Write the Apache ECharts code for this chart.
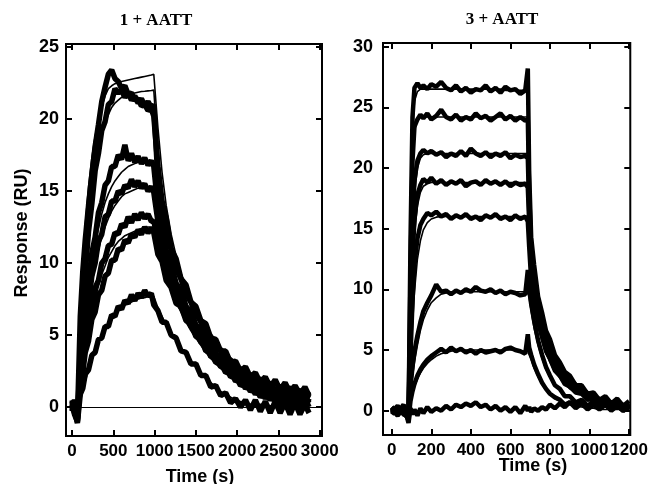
<!DOCTYPE html>
<html lang="en">
<head>
<meta charset="UTF-8">
<title>SPR sensorgrams</title>
<script src="https://cdn.jsdelivr.net/npm/echarts@6/dist/echarts.min.js"></script>
<style>
    html, body { margin: 0; padding: 0; background: #fff; }
    #main { width: 651px; height: 484px; }
</style>
</head>
<body>
<div id="main"></div>
<script>
// ---- left panel: 1 + AATT ----
var tL = [0, 30, 65, 100, 130, 160, 200, 240, 280, 320, 360, 400, 440, 480, 520, 560, 600, 640, 680, 720, 760, 800, 840, 880, 920, 960, 990,
    1040, 1090, 1140, 1200, 1260, 1320, 1380, 1440, 1500, 1560, 1620, 1680, 1740, 1800, 1860, 1920, 1980, 2040, 2100, 2160, 2220, 2280, 2340, 2400, 2460, 2520, 2580, 2640, 2700, 2760, 2820, 2870];

// measured curves (noisy)
var a1 = [0.4, -0.3, -0.9, 6.3, 9.4, 11.6, 14.0, 16.1, 18.1, 19.6, 21.2, 22.2, 23.1, 23.4, 22.8, 22.6, 22.1, 22.3, 21.7, 21.8, 21.3, 21.4, 20.9, 21.0, 20.6, 20.7, 20.2,
    16.7, 14.3, 13.1, 11.0, 10.3, 8.9, 8.5, 7.3, 7.0, 6.0, 5.8, 4.8, 4.7, 3.9, 3.9, 3.1, 3.2, 2.5, 2.8, 2.1, 2.4, 1.7, 2.1, 1.4, 1.9, 1.2, 1.7, 1.0, 1.5, 0.9, 1.4, 0.8];
var a2 = [-0.2, 0.5, -0.7, 3.4, 7.2, 9.3, 12.2, 14.1, 16.4, 17.6, 19.2, 19.8, 21.0, 21.2, 22.1, 21.8, 22.0, 21.5, 21.8, 21.3, 21.6, 21.1, 21.4, 20.9, 21.2, 20.8, 21.0,
    15.8, 13.9, 12.2, 10.9, 9.6, 8.9, 7.8, 7.3, 6.4, 6.0, 5.2, 4.9, 4.1, 4.0, 3.3, 3.3, 2.6, 2.7, 2.1, 2.3, 1.7, 2.0, 1.4, 1.7, 1.1, 1.5, 0.9, 1.4, 0.8, 1.2, 0.7, 1.1];
var a3 = [0.3, -0.4, -0.6, 2.6, 4.6, 6.9, 8.5, 10.7, 11.8, 13.5, 14.2, 15.4, 15.7, 16.7, 16.7, 17.5, 17.2, 18.2, 17.1, 17.6, 17.0, 17.4, 16.9, 17.3, 16.8, 17.1, 16.7,
    13.9, 12.4, 10.9, 9.9, 8.6, 8.1, 7.0, 6.6, 5.7, 5.4, 4.6, 4.4, 3.7, 3.5, 2.9, 2.9, 2.3, 2.4, 1.8, 2.0, 1.4, 1.7, 1.1, 1.4, 0.8, 1.2, 0.6, 1.1, 0.5, 1.0, 0.4, 0.9];
var a4 = [-0.3, 0.4, -0.8, 2.1, 3.8, 5.8, 7.2, 9.1, 10.0, 11.5, 12.0, 13.2, 13.4, 14.3, 14.3, 15.0, 14.8, 15.4, 15.2, 15.8, 15.3, 15.7, 15.2, 15.5, 15.0, 15.3, 14.9,
    12.9, 11.4, 10.3, 9.1, 8.3, 7.4, 6.9, 6.0, 5.7, 4.9, 4.7, 3.9, 3.8, 3.1, 3.1, 2.4, 2.5, 1.9, 2.0, 1.5, 1.7, 1.1, 1.4, 0.8, 1.2, 0.6, 1.0, 0.4, 0.9, 0.3, 0.8, 0.3];
var a5 = [0.2, -0.5, -1.0, 1.6, 3.1, 4.1, 6.0, 6.8, 8.3, 8.8, 10.0, 10.3, 11.2, 11.3, 12.1, 12.0, 12.7, 12.5, 13.2, 12.8, 13.4, 13.0, 13.5, 13.1, 13.4, 12.9, 12.9,
    11.6, 10.3, 9.6, 8.4, 7.9, 6.9, 6.6, 5.6, 5.4, 4.5, 4.4, 3.5, 3.5, 2.8, 2.8, 2.1, 2.2, 1.5, 1.7, 1.1, 1.4, 0.7, 1.1, 0.5, 0.9, 0.2, 0.8, 0.1, 0.7, 0.0, 0.6, 0.0];
var a6 = [-0.1, 0.3, -0.6, 1.3, 2.4, 3.8, 4.6, 6.1, 6.6, 7.8, 8.1, 9.1, 9.3, 10.2, 10.2, 11.0, 10.9, 11.6, 11.4, 12.0, 11.8, 12.3, 12.0, 12.5, 12.1, 12.4, 12.1,
    10.6, 10.1, 8.8, 8.3, 7.2, 7.0, 6.0, 5.8, 4.9, 4.8, 3.9, 3.9, 3.1, 3.1, 2.4, 2.5, 1.8, 2.0, 1.3, 1.6, 0.9, 1.3, 0.6, 1.1, 0.4, 0.9, 0.1, 0.8, 0.0, 0.7, -0.1, 0.6];
var a7 = [0.5, -0.2, -1.1, 0.9, 1.3, 2.3, 2.6, 3.6, 3.8, 4.7, 4.8, 5.6, 5.6, 6.4, 6.3, 7.0, 6.8, 7.4, 7.2, 7.8, 7.4, 7.9, 7.6, 8.1, 7.7, 7.9, 7.1,
    6.7, 5.9, 5.9, 5.0, 4.8, 3.9, 3.8, 3.0, 3.0, 2.2, 2.2, 1.4, 1.5, 0.8, 1.0, 0.3, 0.6, 0.0, 0.5, -0.2, 0.5, -0.3, 0.4, -0.4, 0.4, -0.4, 0.3, -0.5, 0.3, -0.5, 0.2, -0.4];

// fitted curves (smooth)
var f1 = [0, 0, 0, 5.5, 9.6, 12.6, 15.3, 17.3, 18.8, 19.9, 20.8, 21.6, 22.1, 22.3, 22.45, 22.5, 22.6, 22.65, 22.7, 22.75, 22.8, 22.85, 22.9, 22.95, 23.0, 23.05, 23.1,
    19.4, 16.3, 14.0, 12.0, 10.5, 9.3, 8.3, 7.4, 6.7, 6.0, 5.4, 4.9, 4.4, 4.0, 3.6, 3.3, 3.0, 2.7, 2.5, 2.3, 2.1, 1.9, 1.8, 1.6, 1.5, 1.4, 1.3, 1.2, 1.1, 1.0, 1.0, 0.9];
var f2 = [0, 0, 0, 3.8, 7.0, 9.6, 12.4, 14.6, 16.4, 17.8, 18.9, 19.7, 20.3, 20.8, 21.1, 21.3, 21.5, 21.6, 21.7, 21.75, 21.8, 21.85, 21.9, 21.92, 21.95, 21.97, 22.0,
    17.8, 15.0, 13.0, 11.2, 9.8, 8.7, 7.8, 7.0, 6.3, 5.6, 5.0, 4.5, 4.1, 3.7, 3.3, 3.0, 2.7, 2.5, 2.3, 2.1, 1.9, 1.7, 1.6, 1.5, 1.4, 1.3, 1.2, 1.1, 1.0, 0.9, 0.9, 0.8];
var f3 = [0, 0, 0, 2.2, 4.2, 6.0, 8.0, 9.8, 11.2, 12.4, 13.4, 14.2, 14.8, 15.3, 15.7, 16.0, 16.3, 16.5, 16.7, 16.8, 16.9, 17.0, 17.0, 17.1, 17.1, 17.1, 17.1,
    14.2, 12.3, 10.9, 9.6, 8.5, 7.6, 6.8, 6.1, 5.5, 5.0, 4.5, 4.0, 3.6, 3.2, 2.9, 2.6, 2.3, 2.1, 1.9, 1.7, 1.5, 1.4, 1.3, 1.2, 1.1, 1.0, 0.9, 0.8, 0.8, 0.7, 0.7, 0.6];
var f4 = [0, 0, 0, 1.8, 3.5, 5.1, 6.9, 8.5, 9.8, 10.9, 11.8, 12.5, 13.1, 13.6, 14.0, 14.3, 14.6, 14.8, 14.9, 15.0, 15.1, 15.2, 15.2, 15.3, 15.3, 15.3, 15.3,
    12.8, 11.2, 10.0, 8.8, 7.8, 7.0, 6.3, 5.6, 5.0, 4.5, 4.0, 3.6, 3.2, 2.9, 2.6, 2.3, 2.0, 1.8, 1.6, 1.5, 1.3, 1.2, 1.1, 1.0, 0.9, 0.8, 0.7, 0.7, 0.6, 0.6, 0.5, 0.5];
var f5 = [0, 0, 0, 1.3, 2.6, 3.8, 5.2, 6.4, 7.5, 8.4, 9.2, 9.8, 10.4, 10.8, 11.2, 11.5, 11.7, 11.9, 12.0, 12.1, 12.2, 12.3, 12.4, 12.4, 12.5, 12.5, 12.5,
    11.0, 9.9, 9.0, 8.1, 7.3, 6.6, 5.9, 5.3, 4.8, 4.3, 3.8, 3.4, 3.0, 2.7, 2.4, 2.1, 1.9, 1.7, 1.5, 1.3, 1.2, 1.0, 0.9, 0.8, 0.7, 0.6, 0.6, 0.5, 0.4, 0.4, 0.3, 0.3];
var f6 = [0, 0, 0, 0.5, 1.1, 1.8, 2.6, 3.3, 3.9, 4.5, 5.0, 5.4, 5.8, 6.1, 6.4, 6.7, 6.9, 7.1, 7.2, 7.3, 7.4, 7.5, 7.6, 7.6, 7.7, 7.7, 7.7,
    6.9, 6.3, 5.7, 5.1, 4.6, 4.1, 3.6, 3.2, 2.8, 2.4, 2.0, 1.7, 1.4, 1.1, 0.9, 0.7, 0.5, 0.4, 0.3, 0.2, 0.2, 0.2, 0.2, 0.1, 0.1, 0.1, 0.1, 0.1, 0.1, 0.1, 0.1, 0.1];

// ---- right panel: 3 + AATT ----
var tR = [0, 30, 60, 85, 95, 105, 115, 130, 145, 160, 180, 200,
    225, 250, 275, 300, 325, 350, 375, 400, 425, 450, 475, 500, 525, 550, 575, 600, 625, 650, 675,
    688, 695, 705,
    720, 740, 760, 780, 800, 825, 850, 875, 900, 930, 960, 990, 1020, 1050, 1080, 1110, 1140, 1170, 1200];

var b1 = [0.3, -0.2, 0.4, -0.8, 14.0, 24.2, 26.6, 27.0, 26.6, 26.8, 26.5, 26.9,
    26.7, 27.1, 26.6, 26.4, 26.8, 26.3, 26.6, 26.2, 26.5, 26.4, 26.8, 26.3, 26.6, 26.2, 26.7, 26.4, 26.5, 26.1, 26.4,
    28.2, 19.5, 14.3,
    12.0, 9.4, 8.1, 6.6, 5.9, 4.6, 4.0, 3.2, 2.9, 2.1, 2.1, 1.4, 1.5, 0.9, 1.2, 0.6, 1.0, 0.4, 0.8];
var b2 = [-0.3, 0.3, -0.2, -0.6, 11.0, 20.5, 23.4, 24.0, 24.4, 24.1, 24.5, 24.0,
    24.3, 24.8, 24.2, 24.0, 24.4, 23.9, 24.2, 24.0, 24.5, 24.1, 24.3, 23.9, 24.2, 24.5, 24.0, 24.3, 23.9, 24.2, 23.9,
    24.0, 18.0, 13.4,
    11.2, 9.0, 7.5, 6.3, 5.4, 4.4, 3.7, 3.1, 2.6, 2.1, 1.9, 1.4, 1.3, 0.9, 1.0, 0.5, 0.8, 0.3, 0.6];
var b3 = [0.2, -0.3, 0.3, -0.7, 8.0, 15.5, 19.0, 20.6, 21.2, 21.5, 21.2, 21.4,
    21.1, 21.3, 20.9, 21.2, 21.0, 21.4, 21.0, 21.6, 21.2, 21.0, 21.3, 20.9, 21.2, 21.0, 21.3, 20.8, 21.1, 20.9, 21.0,
    20.8, 16.5, 12.4,
    10.3, 8.3, 7.0, 5.7, 4.9, 3.9, 3.4, 2.7, 2.4, 1.8, 1.6, 1.2, 1.1, 0.7, 0.9, 0.4, 0.7, 0.2, 0.5];
var b4 = [-0.1, 0.4, -0.3, -0.5, 6.5, 12.5, 15.8, 17.8, 18.6, 19.1, 18.8, 19.2,
    18.7, 19.0, 18.6, 18.9, 18.7, 19.0, 18.5, 18.8, 18.9, 18.6, 19.0, 18.7, 18.9, 18.6, 18.9, 18.5, 18.8, 18.6, 18.7,
    18.4, 15.5, 11.8,
    9.8, 7.9, 6.6, 5.3, 4.6, 3.6, 3.1, 2.4, 2.2, 1.6, 1.5, 1.0, 1.0, 0.6, 0.8, 0.3, 0.6, 0.2, 0.5];
var b5 = [0.1, -0.4, 0.2, -0.6, 4.5, 9.0, 12.0, 14.2, 15.3, 15.8, 16.3, 16.1,
    16.4, 16.0, 16.2, 15.8, 16.1, 15.9, 16.2, 15.8, 16.0, 15.7, 16.1, 15.9, 16.2, 15.8, 16.0, 15.7, 16.1, 15.8, 16.0,
    15.6, 13.5, 10.8,
    9.0, 7.3, 6.1, 4.9, 4.3, 3.3, 2.9, 2.2, 2.0, 1.5, 1.4, 0.9, 1.0, 0.5, 0.8, 0.3, 0.6, 0.2, 0.5];
var b6 = [0.2, -0.3, 0.1, -0.5, 2.0, 3.6, 4.9, 6.2, 7.3, 8.2, 8.9, 9.5,
    10.4, 9.8, 9.9, 9.6, 9.9, 9.7, 10.0, 9.8, 10.2, 9.9, 9.8, 10.0, 9.7, 9.9, 9.6, 9.8, 9.7, 9.5, 9.6,
    11.6, 10.0, 8.8,
    7.4, 5.8, 4.6, 3.6, 2.9, 2.1, 1.8, 1.2, 1.2, 0.7, 0.9, 0.4, 0.8, 0.3, 0.7, 0.2, 0.6, 0.1, 0.5];
var b7 = [-0.2, 0.3, -0.1, -0.7, 0.8, 1.6, 2.2, 2.9, 3.4, 3.8, 4.2, 4.5,
    4.8, 5.1, 4.8, 5.2, 4.9, 5.1, 4.8, 5.0, 4.7, 5.0, 4.8, 4.9, 5.0, 4.8, 5.1, 5.2, 5.0, 4.9, 4.7,
    6.3, 5.2, 4.6,
    3.8, 3.0, 2.3, 1.8, 1.4, 1.1, 0.9, 0.5, 0.7, 0.2, 0.6, 0.1, 0.5, 0.1, 0.5, 0.0, 0.4, 0.0, 0.4];
var b8 = [0.3, -0.2, 0.5, -1.0, 0.2, -0.3, 0.1, -0.4, 0.2, -0.2, 0.3, -0.1,
    0.2, 0.0, 0.4, 0.1, 0.5, 0.3, 0.6, 0.4, 0.7, 0.3, 0.5, 0.1, 0.4, 0.0, 0.3, -0.1, 0.3, -0.2, 0.4,
    0.0, 0.3, -0.1,
    0.2, 0.0, 0.3, 0.1, 0.5, 0.2, 0.6, 0.3, 0.7, 0.4, 0.6, 0.3, 0.5, 0.2, 0.5, 0.1, 0.4, 0.0, 0.3];

var g1 = [0, 0, 0, 0, 13.0, 22.5, 25.5, 26.3, 26.5, 26.5, 26.5, 26.5,
    26.5, 26.5, 26.5, 26.5, 26.5, 26.5, 26.5, 26.5, 26.5, 26.5, 26.5, 26.5, 26.5, 26.5, 26.4, 26.4, 26.4, 26.4, 26.4,
    26.4, 19.0, 14.5,
    11.8, 9.5, 7.9, 6.7, 5.7, 4.7, 3.9, 3.3, 2.8, 2.3, 1.9, 1.6, 1.3, 1.1, 0.9, 0.8, 0.7, 0.6, 0.5];
var g2 = [0, 0, 0, 0, 10.5, 20.0, 23.0, 24.0, 24.2, 24.2, 24.2, 24.2,
    24.2, 24.2, 24.2, 24.2, 24.2, 24.2, 24.2, 24.2, 24.2, 24.2, 24.2, 24.2, 24.2, 24.2, 24.2, 24.2, 24.2, 24.2, 24.2,
    24.2, 17.5, 13.3,
    10.8, 8.7, 7.2, 6.1, 5.2, 4.3, 3.6, 3.0, 2.5, 2.1, 1.8, 1.5, 1.2, 1.0, 0.8, 0.7, 0.6, 0.5, 0.5];
var g3 = [0, 0, 0, 0, 7.0, 14.0, 17.8, 20.0, 20.8, 21.1, 21.2, 21.2,
    21.2, 21.2, 21.2, 21.2, 21.2, 21.2, 21.2, 21.2, 21.2, 21.2, 21.2, 21.2, 21.2, 21.2, 21.2, 21.2, 21.2, 21.2, 21.2,
    21.2, 16.0, 12.0,
    9.9, 8.0, 6.6, 5.5, 4.7, 3.8, 3.2, 2.7, 2.2, 1.8, 1.5, 1.3, 1.1, 0.9, 0.7, 0.6, 0.5, 0.4, 0.4];
var g4 = [0, 0, 0, 0, 5.5, 11.0, 14.5, 16.9, 18.0, 18.5, 18.7, 18.8,
    18.8, 18.8, 18.8, 18.8, 18.8, 18.8, 18.8, 18.8, 18.8, 18.8, 18.8, 18.8, 18.8, 18.8, 18.8, 18.8, 18.8, 18.8, 18.8,
    18.8, 14.8, 11.2,
    9.2, 7.5, 6.2, 5.1, 4.3, 3.5, 2.9, 2.4, 2.0, 1.7, 1.4, 1.2, 1.0, 0.8, 0.7, 0.6, 0.5, 0.4, 0.3];
var g5 = [0, 0, 0, 0, 3.5, 7.0, 9.8, 12.5, 14.0, 14.9, 15.5, 15.8,
    15.95, 16.0, 16.0, 16.0, 16.0, 16.0, 16.0, 16.0, 16.0, 16.0, 16.0, 16.0, 16.0, 16.0, 16.0, 16.0, 16.0, 16.0, 16.0,
    16.0, 13.0, 10.2,
    8.5, 6.9, 5.7, 4.7, 4.0, 3.2, 2.7, 2.2, 1.8, 1.5, 1.3, 1.1, 0.9, 0.7, 0.6, 0.5, 0.4, 0.4, 0.3];
var g6 = [0, 0, 0, 0, 1.4, 2.8, 4.0, 5.4, 6.6, 7.5, 8.3, 8.9,
    9.3, 9.6, 9.7, 9.8, 9.8, 9.8, 9.8, 9.8, 9.8, 9.8, 9.8, 9.8, 9.8, 9.8, 9.8, 9.8, 9.8, 9.8, 9.8,
    9.8, 9.3, 8.2,
    6.8, 5.4, 4.3, 3.4, 2.8, 2.1, 1.7, 1.3, 1.1, 0.8, 0.6, 0.5, 0.4, 0.3, 0.3, 0.2, 0.2, 0.2, 0.1];
var g7 = [0, 0, 0, 0, 0.7, 1.4, 2.0, 2.6, 3.1, 3.5, 3.9, 4.2,
    4.5, 4.7, 4.8, 4.9, 5.0, 5.0, 5.0, 5.0, 5.0, 5.0, 5.0, 5.0, 5.0, 5.0, 5.0, 5.0, 5.0, 4.9, 4.9,
    4.9, 4.6, 4.2,
    3.5, 2.8, 2.2, 1.7, 1.4, 1.0, 0.8, 0.6, 0.5, 0.4, 0.3, 0.2, 0.2, 0.1, 0.1, 0.1, 0.1, 0.1, 0.1];

// tick positions
var xTicksL = [0, 500, 1000, 1500, 2000, 2500, 3000];
var yTicksL = [0, 5, 10, 15, 20, 25];
var xTicksR = [0, 200, 400, 600, 800, 1000, 1200];
var yTicksR = [0, 5, 10, 15, 20, 25, 30];

var sans = '"Liberation Sans", Arial, sans-serif';

function pairs(t, v) {
    return t.map(function (x, i) { return [x, v[i]]; });
}

function axis(grid, pos, min, max, ticks, labels, margin, size) {
    return {
        type: 'value', gridIndex: grid, position: pos, min: min, max: max,
        axisLine: { show: false, onZero: false },
        splitLine: { show: false },
        axisTick: { show: true, inside: true, length: 6, customValues: ticks, lineStyle: { color: '#000', width: 2 } },
        axisLabel: { show: labels, customValues: ticks, margin: margin, color: '#000',
            showMinLabel: true, showMaxLabel: true, hideOverlap: false,
            fontFamily: sans, fontWeight: 'bold', fontSize: size,
            formatter: function (v) { return String(v); } }
    };
}

function lineSeries(t, v, xi, yi, width) {
    return {
        type: 'line', xAxisIndex: xi, yAxisIndex: yi, data: pairs(t, v),
        symbol: 'none', silent: true, animation: false,
        lineStyle: { color: '#000', width: width }
    };
}

var series = [];
[a1, a2, a3, a4, a5, a6, a7].forEach(function (v) { series.push(lineSeries(tL, v, 0, 0, 5.5)); });
[f1, f2, f3, f4, f5, f6].forEach(function (v) { series.push(lineSeries(tL, v, 0, 0, 1.6)); });
[b1, b2, b3, b4, b5, b6, b7, b8].forEach(function (v) { series.push(lineSeries(tR, v, 2, 2, 4.5)); });
[g1, g2, g3, g4, g5, g6, g7].forEach(function (v) { series.push(lineSeries(tR, v, 2, 2, 1.6)); });

// baseline at 0 in the left panel
series[6].markLine = {
    silent: true, symbol: ['none', 'none'], animation: false,
    label: { show: false },
    lineStyle: { color: '#000', width: 1.2, type: 'solid' },
    data: [{ yAxis: 0 }]
};

var option = {
    backgroundColor: '#fff',
    animation: false,
    grid: [
        { left: 66, top: 44, width: 256, height: 392, show: true, borderColor: '#000', borderWidth: 2 },
        { left: 383, top: 43, width: 255, height: 392, show: true, borderColor: '#000', borderWidth: 2 }
    ],
    xAxis: [
        axis(0, 'bottom', -73, 3027, xTicksL, true, 7, 17),
        axis(0, 'top', -73, 3027, xTicksL, false, 7, 17),
        axis(1, 'bottom', -44, 1206, xTicksR, true, 7, 17),
        axis(1, 'top', -44, 1206, xTicksR, false, 7, 17)
    ],
    yAxis: [
        axis(0, 'left', -2, 25.2, yTicksL, true, 7, 18),
        axis(0, 'right', -2, 25.2, yTicksL, false, 7, 18),
        axis(1, 'left', -2, 30.3, yTicksR, true, 10, 18),
        axis(1, 'right', -2, 30.3, yTicksR, false, 10, 18)
    ],
    graphic: [
        { type: 'text', x: 156, y: 21, style: { text: '1 + AATT', font: 'bold 17px "Liberation Serif", "Times New Roman", serif', fill: '#000', align: 'center', verticalAlign: 'middle' } },
        { type: 'text', x: 502, y: 20, style: { text: '3 + AATT', font: 'bold 17px "Liberation Serif", "Times New Roman", serif', fill: '#000', align: 'center', verticalAlign: 'middle' } },
        { type: 'text', x: 22, y: 233, rotation: Math.PI / 2, style: { text: 'Response (RU)', font: 'bold 18px ' + sans, fill: '#000', align: 'center', verticalAlign: 'middle' } },
        { type: 'text', x: 200, y: 477, style: { text: 'Time (s)', font: 'bold 18px ' + sans, fill: '#000', align: 'center', verticalAlign: 'middle' } },
        { type: 'text', x: 533, y: 466, style: { text: 'Time (s)', font: 'bold 18px ' + sans, fill: '#000', align: 'center', verticalAlign: 'middle' } }
    ],
    series: series
};

var myChart = echarts.init(document.getElementById('main'));
myChart.setOption(option);
</script>
</body>
</html>
